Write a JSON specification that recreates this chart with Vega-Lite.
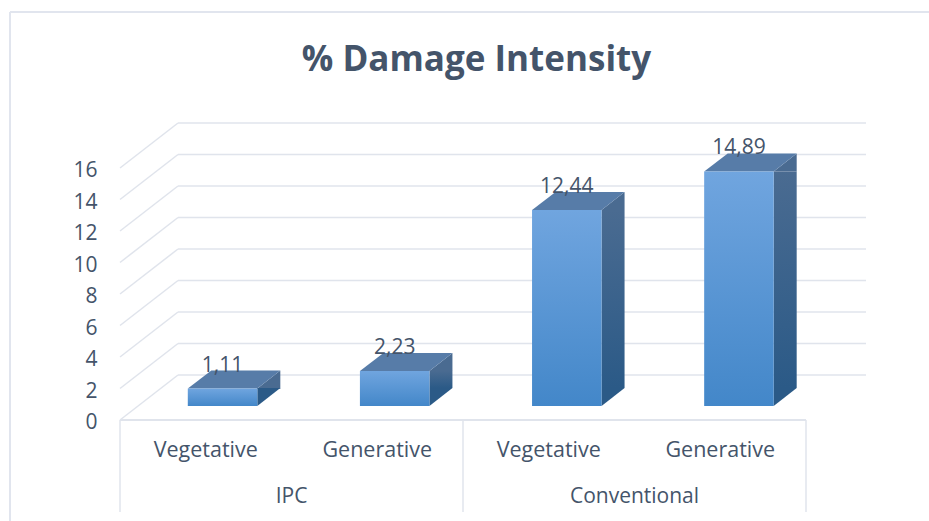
{
"$schema":"https://vega.github.io/schema/vega-lite/v6.json",
"width":919,"height":509,
"autosize":{"type":"none"},
"padding":{"left":10,"top":12,"right":0,"bottom":0},
"background":"white",
"config":{"view":{"stroke":null},"font":"Open Sans"},
"title":{"text":"% Damage Intensity","anchor":"middle","dx":7,"offset":-67,"fontSize":35,"font":"Open Sans","fontWeight":"bold","color":"#44546a"},
"datasets":{
"bars":[
{"group":"IPC","stage":"Vegetative","cat":"IPC Vegetative","value":1.11,"label":"1,11"},
{"group":"IPC","stage":"Generative","cat":"IPC Generative","value":2.23,"label":"2,23"},
{"group":"Conventional","stage":"Vegetative","cat":"Conventional Vegetative","value":12.44,"label":"12,44"},
{"group":"Conventional","stage":"Generative","cat":"Conventional Generative","value":14.89,"label":"14,89"}],
"ticks":[{"tick":0},{"tick":2},{"tick":4},{"tick":6},{"tick":8},{"tick":10},{"tick":12},{"tick":14},{"tick":16}],
"slots":[{"slot":0},{"slot":2},{"slot":4}],
"groups":[{"group":"IPC"},{"group":"Conventional"}],
"one":[{"frame":"edge"}]
},
"data":{"name":"bars"},
"resolve":{"scale":{"x":"independent","y":"independent"}},
"layer":[
{"data":{"name":"one"},"mark":{"type":"rule","stroke":"#e1e5ee","strokeWidth":2},"encoding":{"x":{"value":0}}},
{"data":{"name":"one"},"mark":{"type":"rule","stroke":"#e1e5ee","strokeWidth":2},"encoding":{"y":{"value":0}}},
{"data":{"name":"ticks"},"mark":{"type":"rule","stroke":"#e0e4ec","strokeWidth":1.5,"yOffset":-45},
"encoding":{"x":{"datum":0.338,"type":"quantitative","scale":{"domain":[0,4],"range":[110,796]},"axis":null},"x2":{"datum":4.35},
"y":{"field":"tick","type":"quantitative","scale":{"domain":[0,16],"range":[408,156]},"axis":null}}},
{"data":{"name":"ticks"},"mark":{"type":"point","shape":"M0,0L58,-45","size":4,"filled":false,"stroke":"#e0e4ec","strokeWidth":1.5,"opacity":1},
"encoding":{"x":{"datum":0,"type":"quantitative","scale":{"domain":[0,4],"range":[110,796]},"axis":null},
"y":{"field":"tick","type":"quantitative","scale":{"domain":[0,16],"range":[408,156]},
"axis":{"orient":"left","values":[0,2,4,6,8,10,12,14,16],"title":null,"domain":false,"ticks":false,"grid":false,"labelPadding":-87,"labelOffset":2.5,"labelFontSize":21,"labelFont":"Open Sans","labelColor":"#44546a","labelBaseline":"middle"}}}},
{"data":{"name":"one"},"mark":{"type":"rule","stroke":"#e0e4ec","strokeWidth":2},
"encoding":{"x":{"datum":0,"type":"quantitative","scale":{"domain":[0,4],"range":[110,796]},"axis":null},"x2":{"datum":4},
"y":{"datum":0,"type":"quantitative","scale":{"domain":[0,16],"range":[408,156]},"axis":null}}},
{"data":{"name":"slots"},"mark":{"type":"rule","stroke":"#e0e4ec","strokeWidth":1.5},
"encoding":{"x":{"field":"slot","type":"quantitative","scale":{"domain":[0,4],"range":[110,796]},"axis":null},
"y":{"datum":0,"type":"quantitative","scale":{"domain":[0,16],"range":[408,156]},"axis":null},"y2":{"datum":-5.84}}},
{"data":{"name":"groups"},"mark":{"type":"rule","opacity":0},
"encoding":{"x":{"field":"group","type":"nominal","sort":null,"scale":{"domain":["IPC","Conventional"],"range":[110,796]},
"axis":{"orient":"bottom","title":null,"domain":false,"ticks":false,"grid":false,"labelAngle":0,"labelPadding":-25,"labelBaseline":"middle","labelFontSize":21,"labelFont":"Open Sans","labelColor":"#44546a"}}}},
{"mark":{"type":"bar","stroke":null,"color":{"gradient":"linear","x1":0,"y1":0,"x2":0,"y2":1,"stops":[{"offset":0,"color":"#4a6b91"},{"offset":1,"color":"#2b5a87"}]}},
"encoding":{"x":{"field":"cat","type":"nominal","sort":null,"scale":{"domain":["IPC Vegetative","IPC Generative","Conventional Vegetative","Conventional Generative"],"range":[172.75,861.25],"paddingInner":0.8664,"paddingOuter":0.4332},"axis":null},
"y":{"field":"value","type":"quantitative","scale":{"domain":[0,16],"range":[394,142]},"axis":null},"y2":{"datum":1.143}}},
{"mark":{"type":"point","shape":"M34.75,0L57.75,-18L57.75,0Z","size":4,"filled":true,"fill":"#4a6b91","stroke":null,"opacity":1},
"encoding":{"x":{"field":"cat","type":"nominal","sort":null,"scale":{"domain":["IPC Vegetative","IPC Generative","Conventional Vegetative","Conventional Generative"],"range":[126.5,815]},"axis":null},
"y":{"field":"value","type":"quantitative","scale":{"domain":[0,16],"range":[394,142]},"axis":null}}},
{"mark":{"type":"point","shape":"M34.75,-18L57.75,-18L34.75,0Z","size":4,"filled":true,"fill":"#2b5a87","stroke":null,"opacity":1},
"encoding":{"x":{"field":"cat","type":"nominal","sort":null,"scale":{"domain":["IPC Vegetative","IPC Generative","Conventional Vegetative","Conventional Generative"],"range":[126.5,815]},"axis":null},
"y":{"datum":0,"type":"quantitative","scale":{"domain":[0,16],"range":[394,142]},"axis":null}}},
{"mark":{"type":"point","shape":"M-34.75,0L34.75,0L57.75,-18L-11.25,-18Z","size":4,"filled":true,"fill":"#577ca8","stroke":null,"opacity":1},
"encoding":{"x":{"field":"cat","type":"nominal","sort":null,"scale":{"domain":["IPC Vegetative","IPC Generative","Conventional Vegetative","Conventional Generative"],"range":[126.5,815]},"axis":null},
"y":{"field":"value","type":"quantitative","scale":{"domain":[0,16],"range":[394,142]},"axis":null}}},
{"mark":{"type":"bar","stroke":null,"color":{"gradient":"linear","x1":0,"y1":0,"x2":0,"y2":1,"stops":[{"offset":0,"color":"#70a5df"},{"offset":1,"color":"#4387c9"}]}},
"encoding":{"x":{"field":"cat","type":"nominal","sort":null,"scale":{"domain":["IPC Vegetative","IPC Generative","Conventional Vegetative","Conventional Generative"],"range":[126.5,815],"paddingInner":0.596,"paddingOuter":0.298},"axis":null},
"y":{"field":"value","type":"quantitative","scale":{"domain":[0,16],"range":[394,142]},"axis":null}}},
{"mark":{"type":"text","dy":-23,"baseline":"middle","align":"center","fontSize":21,"font":"Open Sans","color":"#44546a"},
"encoding":{"x":{"field":"cat","type":"nominal","sort":null,"scale":{"domain":["IPC Vegetative","IPC Generative","Conventional Vegetative","Conventional Generative"],"range":[126.5,815]},"axis":null},
"y":{"field":"value","type":"quantitative","scale":{"domain":[0,16],"range":[394,142]},"axis":null},"text":{"field":"label"}}},
{"mark":{"type":"rule","opacity":0},
"encoding":{"x":{"field":"cat","type":"nominal","sort":null,"scale":{"domain":["IPC Vegetative","IPC Generative","Conventional Vegetative","Conventional Generative"],"range":[110,796]},
"axis":{"orient":"bottom","title":null,"domain":false,"ticks":false,"grid":false,"labelAngle":0,"labelPadding":-71,"labelBaseline":"middle","labelFontSize":21.5,"labelFont":"Open Sans","labelColor":"#44546a","labelExpr":"split(datum.label,' ')[1]"}}}}
]
}
